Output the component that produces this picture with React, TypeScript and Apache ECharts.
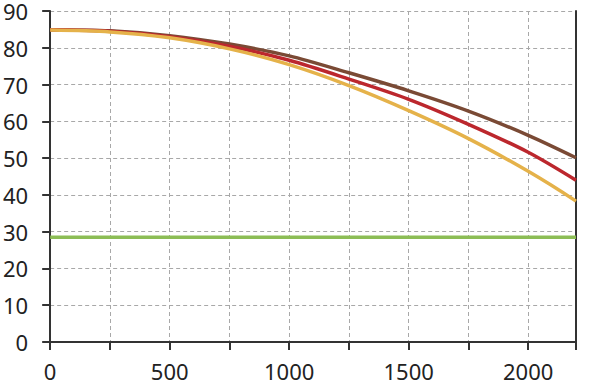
import React, { useEffect, useRef } from "react";
import * as echarts from "echarts";

const xValues = [0, 250, 500, 750, 1000, 1250, 1500, 1750, 2000, 2200];
const brownValues = [84.9, 84.6, 83.3, 81.0, 77.8, 73.2, 68.3, 62.8, 56.2, 50.1];
const redValues = [84.9, 84.5, 83.0, 80.4, 76.6, 71.5, 66.0, 59.2, 51.6, 44.0];
const yellowValues = [84.8, 84.3, 82.7, 79.7, 75.4, 69.7, 62.9, 55.3, 46.4, 38.3];
const greenX = [0, 2200];
const greenValue = 28.5;

const pairs = (ys: number[]) => xValues.map((x, i) => [x, ys[i]]);

export default function App() {
  const ref = useRef<HTMLDivElement>(null);
  useEffect(() => {
    if (!ref.current) return;
    const chart = echarts.init(ref.current, undefined, { renderer: "svg" });
    const axisColor = "#333333";
    const font = "Noto Sans";
    chart.setOption({
      animation: false,
      grid: { left: 48, right: 24, top: 7.5, bottom: 39.3, containLabel: false },
      xAxis: {
        type: "value",
        min: 0,
        max: 2200,
        interval: 250,
        axisLine: { show: true, onZero: false, lineStyle: { color: axisColor, width: 2 } },
        axisTick: { show: true, inside: false, length: 8, lineStyle: { color: axisColor, width: 2 } },
        axisLabel: {
          margin: 18,
          fontSize: 22,
          fontFamily: font,
          color: "#222",
          formatter: (v: number) => (v % 500 === 0 ? String(v) : ""),
        },
        splitLine: { show: true, lineStyle: { color: "#a8a8a8", type: [4, 3], width: 1 } },
      },
      yAxis: [
        {
          type: "value",
          min: 0,
          max: 90,
          interval: 10,
          axisLine: { show: true, lineStyle: { color: axisColor, width: 2 } },
          axisTick: { show: true, inside: false, length: 8, lineStyle: { color: axisColor, width: 2 } },
          axisLabel: { margin: 22, fontSize: 22, fontFamily: font, color: "#222" },
          splitLine: { show: true, lineStyle: { color: "#a8a8a8", type: [4, 3], width: 1 } },
        },
        {
          type: "value",
          min: 0,
          max: 90,
          interval: 10,
          position: "right",
          axisLine: { show: true, lineStyle: { color: axisColor, width: 2 } },
          axisTick: { show: false },
          axisLabel: { show: false },
          splitLine: { show: false },
        },
      ],
      series: [
        {
          type: "line",
          data: greenX.map((x) => [x, greenValue]),
          symbol: "none",
          lineStyle: { color: "#8cbd55", width: 3.5 },
          z: 2,
        },
        {
          type: "line",
          data: pairs(brownValues),
          smooth: 0.3,
          symbol: "none",
          lineStyle: { color: "#7a4a35", width: 3.5 },
          z: 3,
        },
        {
          type: "line",
          data: pairs(redValues),
          smooth: 0.3,
          symbol: "none",
          lineStyle: { color: "#bc272d", width: 3.5 },
          z: 4,
        },
        {
          type: "line",
          data: pairs(yellowValues),
          smooth: 0.3,
          symbol: "none",
          lineStyle: { color: "#e5b24a", width: 3.5 },
          z: 5,
        },
      ],
    });
    return () => chart.dispose();
  }, []);
  return <div ref={ref} style={{ width: 600, height: 382, position: "absolute", left: 0, top: 0 }} />;
}
